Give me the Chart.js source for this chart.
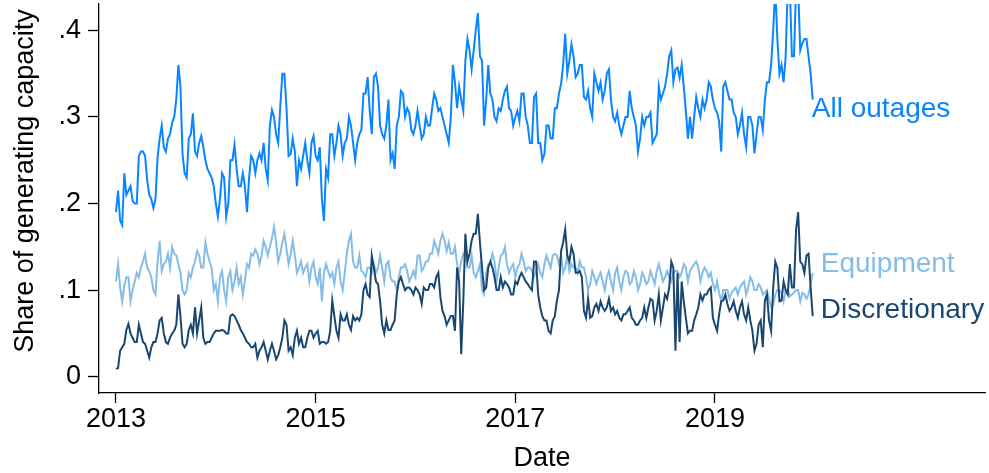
<!DOCTYPE html>
<html><head><meta charset="utf-8">
<script src="https://cdn.jsdelivr.net/npm/chart.js@4.4.1/dist/chart.umd.min.js"></script>
<style>html,body{margin:0;padding:0;background:#fff;overflow:hidden}#wrap{width:989px;height:473px}</style>
</head><body><div id="wrap"><canvas id="c" width="989" height="473"></canvas></div>
<script>
// Sampling: weekly-ish observations (48 per year) starting Jan 2013
const startYear = 2013;
const periodsPerYear = 48;
const xTickYears = [2013, 2015, 2017, 2019];
const yTickValues = [0, 0.1, 0.2, 0.3, 0.4];
const seriesNames = ['All outages', 'Equipment', 'Discretionary'];

const allOutages = [
0.19,0.215,0.18,0.175,0.235,0.21,0.215,0.22,0.203,0.20,
0.20,0.255,0.26,0.26,0.255,0.227,0.21,0.205,0.195,0.205,
0.253,0.275,0.29,0.265,0.26,0.275,0.28,0.293,0.30,0.32,
0.36,0.335,0.257,0.235,0.23,0.275,0.28,0.304,0.26,0.255,
0.27,0.278,0.265,0.25,0.24,0.235,0.23,0.22,0.20,0.185,
0.205,0.235,0.23,0.185,0.20,0.25,0.25,0.268,0.24,0.22,
0.22,0.235,0.22,0.19,0.23,0.255,0.25,0.235,0.25,0.258,
0.25,0.27,0.24,0.227,0.29,0.308,0.30,0.28,0.27,0.312,
0.35,0.35,0.31,0.255,0.257,0.275,0.26,0.22,0.25,0.24,
0.255,0.27,0.25,0.235,0.27,0.278,0.255,0.25,0.265,0.205,
0.18,0.24,0.23,0.28,0.28,0.255,0.27,0.29,0.28,0.255,
0.27,0.275,0.30,0.29,0.27,0.25,0.27,0.28,0.285,0.327,
0.327,0.346,0.307,0.28,0.346,0.35,0.335,0.29,0.28,0.275,
0.29,0.32,0.25,0.258,0.24,0.29,0.30,0.33,0.327,0.30,
0.31,0.305,0.285,0.28,0.29,0.307,0.29,0.275,0.28,0.30,
0.29,0.29,0.31,0.327,0.32,0.307,0.31,0.30,0.29,0.28,
0.27,0.30,0.36,0.34,0.31,0.335,0.32,0.307,0.365,0.39,
0.377,0.355,0.377,0.40,0.42,0.37,0.365,0.29,0.32,0.36,
0.327,0.32,0.30,0.295,0.31,0.307,0.32,0.33,0.335,0.31,
0.307,0.29,0.30,0.307,0.295,0.327,0.327,0.30,0.29,0.27,
0.27,0.323,0.327,0.27,0.27,0.25,0.257,0.29,0.29,0.275,
0.275,0.31,0.31,0.327,0.338,0.36,0.396,0.35,0.365,0.384,
0.37,0.346,0.35,0.36,0.36,0.323,0.32,0.33,0.31,0.30,
0.35,0.34,0.33,0.34,0.32,0.33,0.35,0.355,0.32,0.30,
0.295,0.305,0.29,0.28,0.29,0.30,0.30,0.33,0.31,0.30,
0.29,0.26,0.275,0.30,0.29,0.30,0.30,0.305,0.27,0.275,
0.28,0.335,0.32,0.327,0.335,0.35,0.37,0.377,0.34,0.355,
0.357,0.345,0.36,0.335,0.307,0.275,0.30,0.275,0.30,0.323,
0.31,0.30,0.32,0.31,0.32,0.34,0.335,0.32,0.31,0.305,
0.295,0.26,0.335,0.34,0.33,0.32,0.32,0.305,0.30,0.28,
0.29,0.305,0.28,0.265,0.30,0.30,0.29,0.258,0.28,0.30,
0.30,0.285,0.32,0.34,0.34,0.36,0.40,0.45,0.39,0.35,
0.36,0.34,0.37,0.45,0.45,0.37,0.37,0.45,0.45,0.377,
0.385,0.39,0.39,0.37,0.35,0.32
];
const equipment = [
0.11,0.13,0.103,0.087,0.105,0.115,0.115,0.087,0.10,0.11,
0.12,0.115,0.126,0.133,0.142,0.126,0.122,0.115,0.10,0.095,
0.133,0.157,0.122,0.13,0.133,0.142,0.126,0.15,0.142,0.14,
0.13,0.12,0.10,0.095,0.10,0.12,0.115,0.126,0.133,0.145,
0.14,0.126,0.126,0.155,0.142,0.133,0.126,0.10,0.107,0.087,
0.115,0.122,0.10,0.087,0.115,0.122,0.10,0.11,0.126,0.107,
0.115,0.095,0.11,0.13,0.126,0.142,0.14,0.147,0.142,0.13,
0.14,0.157,0.15,0.14,0.15,0.16,0.173,0.155,0.133,0.142,
0.155,0.165,0.147,0.13,0.142,0.157,0.14,0.12,0.126,0.133,
0.12,0.126,0.13,0.11,0.126,0.133,0.115,0.107,0.126,0.087,
0.12,0.13,0.122,0.115,0.12,0.107,0.126,0.133,0.11,0.10,
0.12,0.142,0.157,0.165,0.133,0.126,0.126,0.14,0.122,0.12,
0.115,0.126,0.126,0.12,0.13,0.12,0.126,0.14,0.126,0.11,
0.13,0.133,0.115,0.11,0.11,0.10,0.115,0.126,0.126,0.13,
0.122,0.11,0.115,0.122,0.115,0.14,0.14,0.122,0.126,0.133,
0.133,0.142,0.142,0.157,0.15,0.142,0.157,0.165,0.157,0.145,
0.155,0.142,0.142,0.15,0.13,0.12,0.133,0.142,0.14,0.126,
0.126,0.14,0.12,0.115,0.122,0.13,0.10,0.095,0.12,0.13,
0.13,0.142,0.133,0.11,0.126,0.14,0.142,0.15,0.13,0.12,
0.126,0.13,0.115,0.126,0.13,0.142,0.133,0.122,0.126,0.126,
0.122,0.115,0.122,0.13,0.12,0.115,0.13,0.14,0.133,0.126,
0.14,0.142,0.14,0.13,0.14,0.12,0.126,0.14,0.122,0.13,
0.126,0.126,0.12,0.133,0.126,0.126,0.115,0.10,0.107,0.122,
0.115,0.107,0.115,0.12,0.11,0.10,0.115,0.122,0.11,0.10,
0.12,0.126,0.11,0.10,0.115,0.122,0.12,0.107,0.11,0.122,
0.115,0.10,0.107,0.12,0.115,0.107,0.11,0.122,0.115,0.107,
0.122,0.13,0.12,0.11,0.115,0.122,0.115,0.11,0.12,0.122,
0.122,0.115,0.12,0.13,0.126,0.11,0.122,0.126,0.13,0.133,
0.126,0.11,0.12,0.126,0.122,0.115,0.12,0.107,0.10,0.11,
0.097,0.087,0.10,0.10,0.10,0.09,0.097,0.10,0.103,0.095,
0.103,0.107,0.11,0.095,0.103,0.115,0.11,0.10,0.10,0.107,
0.103,0.095,0.097,0.10,0.09,0.08,0.083,0.095,0.10,0.10,
0.097,0.087,0.10,0.10,0.093,0.095,0.097,0.10,0.10,0.087,
0.097,0.095,0.09,0.095,0.107,0.12
];
const discretionary = [
0.009,0.01,0.03,0.034,0.038,0.054,0.061,0.05,0.045,0.04,
0.04,0.06,0.05,0.04,0.038,0.03,0.022,0.034,0.04,0.04,
0.05,0.065,0.068,0.05,0.04,0.038,0.045,0.05,0.053,0.06,
0.095,0.07,0.038,0.034,0.038,0.054,0.06,0.05,0.08,0.05,
0.065,0.08,0.045,0.038,0.04,0.04,0.045,0.05,0.053,0.053,
0.053,0.054,0.053,0.05,0.05,0.07,0.072,0.07,0.065,0.06,
0.054,0.05,0.045,0.04,0.038,0.034,0.034,0.038,0.022,0.03,
0.034,0.04,0.03,0.02,0.03,0.038,0.03,0.02,0.025,0.034,
0.045,0.065,0.06,0.03,0.034,0.025,0.045,0.053,0.038,0.045,
0.034,0.034,0.045,0.053,0.053,0.045,0.05,0.053,0.038,0.04,
0.04,0.038,0.04,0.053,0.088,0.07,0.053,0.045,0.072,0.065,
0.065,0.072,0.06,0.054,0.07,0.065,0.068,0.065,0.072,0.10,
0.107,0.095,0.092,0.14,0.126,0.11,0.107,0.087,0.06,0.05,
0.065,0.054,0.054,0.06,0.065,0.095,0.11,0.115,0.107,0.10,
0.103,0.103,0.10,0.095,0.103,0.10,0.095,0.084,0.103,0.10,
0.10,0.107,0.107,0.103,0.115,0.12,0.092,0.076,0.07,0.06,
0.065,0.07,0.07,0.053,0.126,0.11,0.026,0.087,0.165,0.133,
0.142,0.157,0.165,0.165,0.188,0.155,0.126,0.10,0.103,0.126,
0.133,0.126,0.115,0.10,0.10,0.115,0.103,0.11,0.107,0.103,
0.095,0.095,0.11,0.107,0.115,0.12,0.115,0.11,0.107,0.103,
0.10,0.133,0.133,0.095,0.08,0.07,0.065,0.065,0.053,0.05,
0.065,0.07,0.088,0.10,0.145,0.155,0.17,0.14,0.133,0.15,
0.142,0.12,0.12,0.122,0.115,0.076,0.068,0.09,0.068,0.07,
0.08,0.084,0.076,0.087,0.08,0.076,0.08,0.09,0.076,0.08,
0.072,0.076,0.068,0.065,0.072,0.072,0.076,0.08,0.068,0.065,
0.06,0.06,0.065,0.068,0.08,0.068,0.08,0.09,0.088,0.065,
0.076,0.095,0.065,0.08,0.095,0.09,0.103,0.133,0.126,0.03,
0.12,0.04,0.11,0.087,0.068,0.05,0.053,0.053,0.065,0.072,
0.08,0.095,0.088,0.095,0.095,0.10,0.103,0.068,0.06,0.053,
0.072,0.087,0.088,0.095,0.084,0.076,0.08,0.087,0.076,0.068,
0.08,0.087,0.072,0.065,0.08,0.065,0.053,0.03,0.038,0.06,
0.065,0.034,0.088,0.095,0.065,0.053,0.103,0.133,0.126,0.087,
0.088,0.11,0.10,0.095,0.13,0.103,0.103,0.17,0.19,0.133,
0.13,0.12,0.14,0.142,0.103,0.07
];

const colors = { all: '#0a85ff', equip: '#85bde8', disc: '#1a476f' };
const FONT = '"Liberation Sans", Arial, Helvetica, sans-serif';

function toPoints(arr) {
  return arr.map((v, i) => ({ x: startYear + i / periodsPerYear, y: v }));
}

const labelPlugin = {
  id: 'textLabels',
  afterDraw(chart) {
    const { ctx, scales: { x, y } } = chart;
    ctx.save();
    ctx.font = '27px ' + FONT;
    ctx.fillStyle = '#000';
    ctx.save();
    ctx.translate(33, 181);
    ctx.rotate(-Math.PI / 2);
    ctx.textAlign = 'center';
    ctx.textBaseline = 'alphabetic';
    ctx.fillText('Share of generating capacity', 0, 0);
    ctx.restore();
    ctx.font = '28px ' + FONT;
    ctx.textAlign = 'left';
    ctx.textBaseline = 'alphabetic';
    const items = [
      { text: seriesNames[0], color: colors.all, xv: 2020, yv: 0.300, dx: -3 },
      { text: seriesNames[1], color: colors.equip, xv: 2020, yv: 0.121, dx: 6 },
      { text: seriesNames[2], color: colors.disc, xv: 2020, yv: 0.068, dx: 6 }
    ];
    items.forEach(it => {
      ctx.fillStyle = it.color;
      ctx.fillText(it.text, x.getPixelForValue(it.xv) + it.dx, y.getPixelForValue(it.yv));
    });
    ctx.restore();
  }
};

function zeroPad(s) { s.paddingTop = 0; s.paddingBottom = 0; s.paddingLeft = 0; s.paddingRight = 0; }

new Chart(document.getElementById('c'), {
  type: 'line',
  data: {
    datasets: [
      { label: seriesNames[2], data: toPoints(discretionary), borderColor: colors.disc, borderWidth: 2, pointRadius: 0, tension: 0, fill: false },
      { label: seriesNames[1], data: toPoints(equipment), borderColor: colors.equip, borderWidth: 2, pointRadius: 0, tension: 0, fill: false },
      { label: seriesNames[0], data: toPoints(allOutages), borderColor: colors.all, borderWidth: 2, pointRadius: 0, tension: 0, fill: false }
    ]
  },
  options: {
    responsive: false,
    animation: false,
    devicePixelRatio: 1,
    layout: { padding: { top: 4, right: 4, left: 0, bottom: 0 } },
    plugins: { legend: { display: false }, tooltip: { enabled: false } },
    scales: {
      x: {
        type: 'linear',
        min: 2012.83,
        max: 2021.705,
        afterBuildTicks: s => { s.ticks = xTickYears.map(v => ({ value: v })); },
        afterFit: s => { s.height = 80; zeroPad(s); },
        ticks: { font: { family: FONT, size: 27 }, color: '#000', padding: 0, maxRotation: 0, autoSkip: false, callback: v => String(v) },
        grid: { display: true, drawOnChartArea: false, drawTicks: true, tickLength: 10, tickColor: '#000', tickWidth: 1.3 },
        border: { display: true, color: '#000', width: 1.3 },
        title: { display: true, text: 'Date', color: '#000', font: { family: FONT, size: 27, lineHeight: 1.05 }, padding: { top: 0, bottom: 0 } }
      },
      y: {
        type: 'linear',
        min: -0.0188,
        max: 0.4304,
        afterBuildTicks: s => { s.ticks = yTickValues.map(v => ({ value: v })); },
        afterFit: s => { s.width = 99; zeroPad(s); },
        ticks: { font: { family: FONT, size: 27 }, color: '#000', padding: 7, autoSkip: false,
          callback: v => (v === 0 ? '0' : '.' + Math.round(v * 10)) },
        grid: { display: true, drawOnChartArea: false, drawTicks: true, tickLength: 11, tickColor: '#000', tickWidth: 1.3 },
        border: { display: true, color: '#000', width: 1.3 },
        title: { display: false }
      }
    }
  },
  plugins: [labelPlugin]
});
</script>
</body></html>
